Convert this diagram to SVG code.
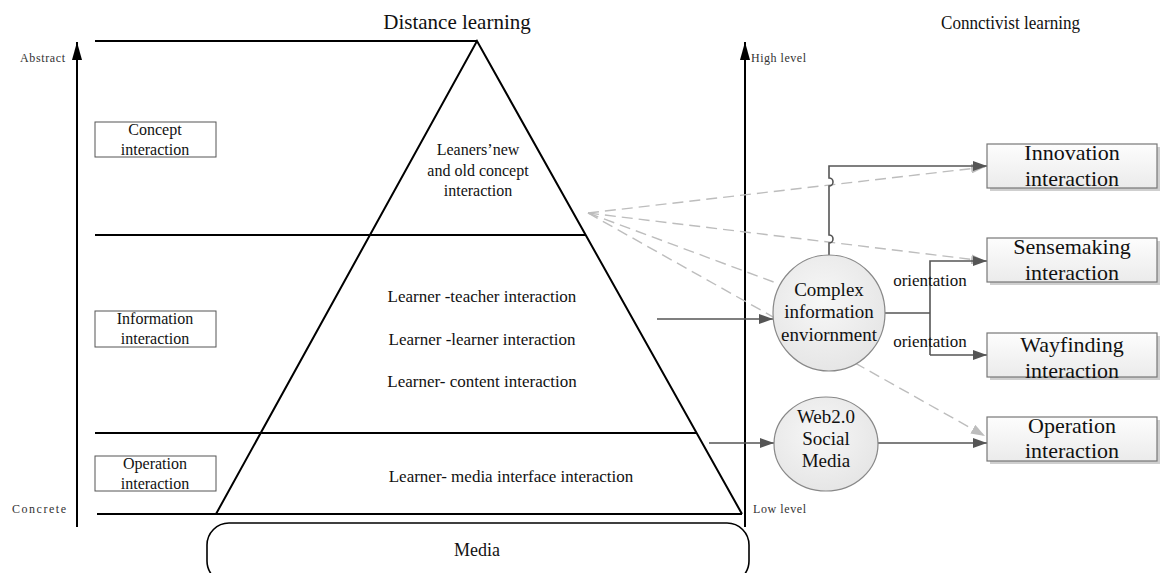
<svg xmlns="http://www.w3.org/2000/svg" width="1164" height="573" viewBox="0 0 1164 573">
<style>
text{font-family:"Liberation Serif","Times New Roman",serif;fill:#111}
.ln{stroke:#000;stroke-width:2;fill:none}
.box{fill:#fff;stroke:#555;stroke-width:1}
.rbox{fill:url(#gBox);stroke:#777;stroke-width:1.2}
.shadow{fill:#cfcfcf}
.circ{fill:url(#gCirc);stroke:#888;stroke-width:1.2}
.conn{stroke:#555;stroke-width:1.6;fill:none}
.dash{stroke:#bdbdbd;stroke-width:1.4;stroke-dasharray:11 6;fill:none}
.sm{font-size:12px;fill:#333}
.lb{font-size:16px}
.mid{font-size:17px}
.top{font-size:16px}
.cl{font-size:19px}
.or{font-size:17px}
.rb{font-size:22px}
</style>
<defs>
<linearGradient id="gBox" x1="0" y1="0" x2="0" y2="1"><stop offset="0" stop-color="#fdfdfd"/><stop offset="1" stop-color="#ebebeb"/></linearGradient>
<radialGradient id="gCirc" cx="0.45" cy="0.4" r="0.7"><stop offset="0" stop-color="#f7f7f7"/><stop offset="1" stop-color="#e3e3e3"/></radialGradient>
<marker id="axisHead" viewBox="0 0 18 10" markerWidth="18" markerHeight="10" refX="18" refY="5" orient="auto" markerUnits="userSpaceOnUse"><path d="M0,0 L18,5 L0,10 Z" fill="#000"/></marker>
<marker id="arr" viewBox="0 0 14 10" markerWidth="14" markerHeight="10" refX="14" refY="5" orient="auto" markerUnits="userSpaceOnUse"><path d="M0,0 L14,5 L0,10 Z" fill="#555"/></marker>
<marker id="arrG" viewBox="0 0 14 10" markerWidth="14" markerHeight="10" refX="14" refY="5" orient="auto" markerUnits="userSpaceOnUse"><path d="M0,0 L14,5 L0,10 Z" fill="#bdbdbd"/></marker>
</defs>

<g id="titles">
<text x="457" y="29" text-anchor="middle" style="font-size:21px">Distance learning</text>
<text x="941" y="29" textLength="139" lengthAdjust="spacingAndGlyphs" style="font-size:19px">Connctivist learning</text>
</g>

<g id="left-axis">
<line class="ln" x1="77" y1="527" x2="77" y2="42" marker-end="url(#axisHead)"/>
<text class="sm" x="20" y="62" textLength="45">Abstract</text>
<text class="sm" x="12" y="513" textLength="54">Concrete</text>
</g>

<g id="right-axis">
<line class="ln" x1="745" y1="527" x2="745" y2="42" marker-end="url(#axisHead)"/>
<text class="sm" x="751" y="62" textLength="55">High level</text>
<text class="sm" x="753" y="513" textLength="53">Low level</text>
</g>

<g id="pyramid">
<line class="ln" x1="95" y1="41" x2="477" y2="41"/>
<line class="ln" x1="95" y1="235" x2="585" y2="235"/>
<line class="ln" x1="95" y1="433" x2="696" y2="433"/>
<line class="ln" x1="97" y1="514" x2="742" y2="514"/>
<path class="ln" d="M216,514 L477,41 L742,514"/>
<text class="top" x="478" y="155" text-anchor="middle">Leaners’new</text>
<text class="top" x="478" y="176" text-anchor="middle">and old concept</text>
<text class="top" x="478" y="196" text-anchor="middle">interaction</text>
<text class="mid" x="482" y="302" text-anchor="middle">Learner -teacher interaction</text>
<text class="mid" x="482" y="345" text-anchor="middle">Learner -learner interaction</text>
<text class="mid" x="482" y="387" text-anchor="middle">Learner- content interaction</text>
<text class="mid" x="511" y="482" text-anchor="middle">Learner- media interface interaction</text>
</g>

<g id="media">
<rect class="ln" x="207" y="523" width="542" height="60" rx="22" ry="22" style="stroke-width:1.6"/>
<text x="477" y="556" text-anchor="middle" style="font-size:18px">Media</text>
</g>

<g id="concept-interaction">
<rect class="box" x="95" y="122" width="121" height="35"/>
<text class="lb" x="155" y="135" text-anchor="middle">Concept</text>
<text class="lb" x="155" y="155" text-anchor="middle">interaction</text>
</g>
<g id="information-interaction">
<rect class="box" x="95" y="311" width="121" height="36"/>
<text class="lb" x="155" y="324" text-anchor="middle">Information</text>
<text class="lb" x="155" y="344" text-anchor="middle">interaction</text>
</g>
<g id="operation-interaction-left">
<rect class="box" x="95" y="456" width="121" height="35"/>
<text class="lb" x="155" y="469" text-anchor="middle">Operation</text>
<text class="lb" x="155" y="489" text-anchor="middle">interaction</text>
</g>

<g id="connectors">
<line class="dash" x1="588" y1="213" x2="985" y2="167" marker-end="url(#arrG)"/>
<line class="dash" x1="588" y1="213" x2="985" y2="261" marker-end="url(#arrG)"/>
<line class="dash" x1="588" y1="213" x2="779" y2="284"/>
<line class="dash" x1="588" y1="213" x2="985" y2="436" marker-end="url(#arrG)"/>
<line class="conn" x1="657" y1="319" x2="773" y2="319" marker-end="url(#arr)"/>
<line class="conn" x1="709" y1="443" x2="774" y2="443" marker-end="url(#arr)"/>
<path class="conn" d="M829,255 L829,243 A4,4 0 0 0 829,235 L829,186 A4,4 0 0 0 829,178 L829,166 L987,166" marker-end="url(#arr)"/>
<path class="conn" d="M885,313 L930,313"/>
<path class="conn" d="M930,355 L930,261 L987,261" marker-end="url(#arr)"/>
<path class="conn" d="M930,355 L987,355" marker-end="url(#arr)"/>
<path class="conn" d="M878,443 L987,443" marker-end="url(#arr)"/>
<text class="or" x="930" y="286" text-anchor="middle">orientation</text>
<text class="or" x="930" y="347" text-anchor="middle">orientation</text>
</g>

<g id="complex-information">
<ellipse class="circ" cx="829" cy="313" rx="56" ry="58"/>
<text class="cl" x="829" y="296" text-anchor="middle">Complex</text>
<text class="cl" x="829" y="318" text-anchor="middle">information</text>
<text class="cl" x="829" y="341" text-anchor="middle">enviornment</text>
</g>
<g id="web20">
<ellipse class="circ" cx="826" cy="444" rx="52" ry="47"/>
<text class="cl" x="826" y="423" text-anchor="middle">Web2.0</text>
<text class="cl" x="826" y="445" text-anchor="middle">Social</text>
<text class="cl" x="826" y="467" text-anchor="middle">Media</text>
</g>

<g id="innovation-interaction">
<rect class="shadow" x="990" y="147" width="170" height="44"/>
<rect class="rbox" x="987" y="144" width="170" height="44"/>
<text class="rb" x="1072" y="160" text-anchor="middle">Innovation</text>
<text class="rb" x="1072" y="186" text-anchor="middle">interaction</text>
</g>
<g id="sensemaking-interaction">
<rect class="shadow" x="990" y="241" width="170" height="44"/>
<rect class="rbox" x="987" y="238" width="170" height="44"/>
<text class="rb" x="1072" y="254" text-anchor="middle">Sensemaking</text>
<text class="rb" x="1072" y="280" text-anchor="middle">interaction</text>
</g>
<g id="wayfinding-interaction">
<rect class="shadow" x="990" y="336" width="170" height="44"/>
<rect class="rbox" x="987" y="333" width="170" height="44"/>
<text class="rb" x="1072" y="352" text-anchor="middle">Wayfinding</text>
<text class="rb" x="1072" y="378" text-anchor="middle">interaction</text>
</g>
<g id="operation-interaction-right">
<rect class="shadow" x="990" y="420" width="170" height="44"/>
<rect class="rbox" x="987" y="417" width="170" height="44"/>
<text class="rb" x="1072" y="433" text-anchor="middle">Operation</text>
<text class="rb" x="1072" y="458" text-anchor="middle">interaction</text>
</g>
</svg>
